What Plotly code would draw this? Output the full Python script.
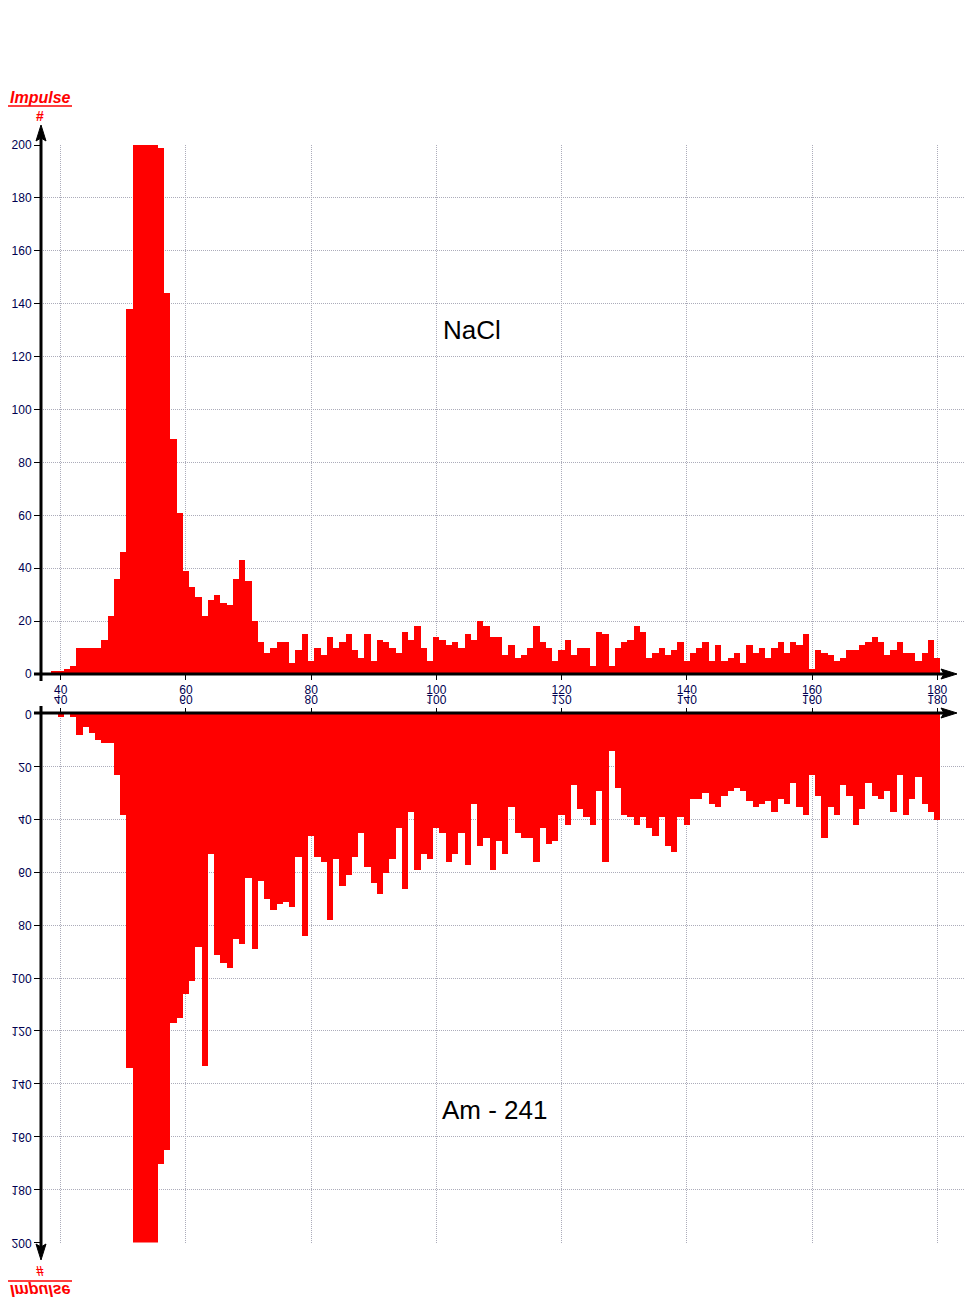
import plotly.graph_objects as go

# ---------------- data ----------------
channels = list(range(39, 181))

nacl_counts = [
    1, 1, 2, 3, 10, 10, 10, 10, 13, 22,
    36, 46, 138, 200, 200, 200, 200, 199, 144, 89,
    61, 39, 33, 29, 22, 28, 30, 27, 26, 36,
    43, 35, 20, 12, 8, 10, 12, 12, 4, 9,
    15, 5, 10, 7, 14, 10, 12, 15, 9, 6,
    15, 5, 13, 12, 10, 8, 16, 13, 18, 10,
    5, 14, 13, 11, 12, 10, 15, 13, 20, 18,
    14, 14, 7, 11, 6, 7, 10, 18, 12, 10,
    5, 9, 13, 7, 10, 10, 3, 16, 15, 3,
    10, 12, 13, 18, 16, 6, 8, 10, 7, 9,
    12, 5, 8, 10, 12, 5, 11, 5, 6, 8,
    4, 11, 8, 10, 6, 10, 12, 8, 12, 11,
    15, 2, 9, 8, 7, 5, 6, 9, 9, 11,
    12, 14, 12, 7, 9, 12, 8, 8, 5, 8,
    13, 6,
]

am241_counts = [
    0, 1, 0, 1, 8, 5, 7, 10, 11, 11,
    23, 38, 134, 200, 200, 200, 200, 170, 165, 117,
    115, 106, 101, 88, 133, 53, 91, 94, 96, 85,
    87, 62, 89, 63, 70, 74, 72, 71, 73, 54,
    84, 46, 54, 56, 78, 55, 65, 61, 54, 45,
    58, 64, 68, 60, 55, 43, 66, 37, 59, 53,
    55, 43, 45, 56, 53, 45, 57, 34, 50, 47,
    59, 48, 53, 35, 45, 47, 47, 56, 43, 49,
    48, 38, 42, 27, 36, 39, 42, 29, 56, 14,
    28, 38, 39, 42, 39, 43, 46, 39, 50, 52,
    39, 42, 32, 32, 30, 34, 35, 31, 29, 28,
    29, 33, 35, 34, 33, 37, 32, 34, 26, 35,
    38, 23, 31, 47, 35, 38, 27, 31, 42, 36,
    26, 31, 32, 29, 37, 23, 38, 32, 24, 34,
    37, 40,
]

x_ticks = [40, 60, 80, 100, 120, 140, 160, 180]
x_tick_labels = ["40", "60", "80", "100", "120", "140", "160", "180"]
y_ticks = [0, 20, 40, 60, 80, 100, 120, 140, 160, 180, 200]
y_tick_labels = ["0", "20", "40", "60", "80", "100", "120", "140", "160", "180", "200"]

top_label = "NaCl"
bottom_label = "Am - 241"
axis_title = "Impulse"
axis_unit = "#"

assert len(channels) == len(nacl_counts) == len(am241_counts)

# ---------------- geometry helpers ----------------
W, H = 965, 1300


def px(x):
    return x / W


def py(y):
    return 1 - y / H


X_RANGE = [40 - (60.7 - 41) / 6.261, 40 + (965 - 60.7) / 6.261]

RED = "#ff0000"
GRID = "#acacba"
TICKCOL = "#000050"
FONT = "Liberation Sans, Arial, sans-serif"

fig = go.Figure()
fig.add_trace(go.Bar(x=channels, y=nacl_counts, xaxis="x", yaxis="y", width=1,
                     marker=dict(color=RED, line=dict(width=0)), hoverinfo="x+y"))
fig.add_trace(go.Bar(x=channels, y=am241_counts, xaxis="x2", yaxis="y2", width=1,
                     marker=dict(color=RED, line=dict(width=0)), hoverinfo="x+y"))

common_x = dict(range=X_RANGE, tickvals=x_ticks, ticktext=x_tick_labels, ticks="outside",
                ticklen=5, tickwidth=1, tickcolor="black", showgrid=True, gridcolor=GRID,
                griddash="1px,1px", gridwidth=1, zeroline=False, showline=False,
                automargin=False,
                tickfont=dict(family=FONT, size=12, color=TICKCOL), fixedrange=True)
common_y = dict(tickvals=y_ticks, ticktext=y_tick_labels, ticks="outside", ticklen=6,
                tickwidth=1, tickcolor="black", showgrid=True, gridcolor=GRID,
                griddash="1px,1px", gridwidth=1, zeroline=False, showline=False,
                automargin=False,
                tickfont=dict(family=FONT, size=12, color=TICKCOL), fixedrange=True)

shapes = []
# axis lines
shapes.append(dict(type="line", xref="paper", yref="paper", x0=px(34), x1=px(945),
                   y0=py(674), y1=py(674), line=dict(color="black", width=3), layer="above"))
shapes.append(dict(type="line", xref="paper", yref="paper", x0=px(34), x1=px(945),
                   y0=py(713), y1=py(713), line=dict(color="black", width=3), layer="above"))
shapes.append(dict(type="line", xref="paper", yref="paper", x0=px(41), x1=px(41),
                   y0=py(681), y1=py(138), line=dict(color="black", width=3), layer="above"))
shapes.append(dict(type="line", xref="paper", yref="paper", x0=px(41), x1=px(41),
                   y0=py(706), y1=py(1247), line=dict(color="black", width=3), layer="above"))


def tri(pts):
    return "M " + " L ".join(f"{px(a):.5f},{py(b):.5f}" for a, b in pts) + " Z"


for pts in ([(957, 674), (941, 669), (944, 674), (941, 679)],
            [(957, 713), (941, 708), (944, 713), (941, 718)],
            [(41, 125), (36, 141), (41, 138), (46, 141)],
            [(41, 1260), (36, 1244), (41, 1247), (46, 1244)]):
    shapes.append(dict(type="path", xref="paper", yref="paper", path=tri(pts),
                       fillcolor="black", line=dict(color="black", width=1), layer="above"))

# underlines of the axis title
shapes.append(dict(type="line", xref="paper", yref="paper", x0=px(8), x1=px(72),
                   y0=py(106), y1=py(106), line=dict(color=RED, width=1.5)))
shapes.append(dict(type="line", xref="paper", yref="paper", x0=px(8), x1=px(72),
                   y0=py(1281), y1=py(1281), line=dict(color=RED, width=1.5)))

annotations = [
    dict(text=f"<b><i>{axis_title}</i></b>", x=px(40), y=py(97)),
    dict(text=f"<b>{axis_unit}</b>", x=px(40), y=py(116)),
    dict(text=top_label, x=px(472), y=py(330), font=dict(family=FONT, size=26, color="black")),
    dict(text=bottom_label, x=px(495), y=py(1110), font=dict(family=FONT, size=26, color="black")),
    dict(text=f"<b>{axis_unit}</b>", x=px(40), y=py(1271)),
    dict(text=f"<b><i>{axis_title}</i></b>", x=px(40), y=py(1290)),
]
for a in annotations:
    a.update(xref="paper", yref="paper", showarrow=False, xanchor="center", yanchor="middle")
    if "font" not in a:
        a["font"] = dict(family=FONT, size=16, color=RED)
annotations[1]["font"] = dict(family=FONT, size=14, color=RED)
annotations[4]["font"] = dict(family=FONT, size=14, color=RED)

fig.update_layout(
    width=W, height=H, autosize=False,
    margin=dict(l=0, r=0, t=0, b=0, pad=0, autoexpand=False),
    paper_bgcolor="white", plot_bgcolor="white",
    showlegend=False, bargap=0,
    xaxis=dict(domain=[px(41), 1], anchor="y", **common_x),
    yaxis=dict(domain=[py(674), py(145)], range=[0, 200], anchor="x", **common_y),
    xaxis2=dict(domain=[px(41), 1], anchor="y2", side="top", **common_x),
    yaxis2=dict(domain=[py(1242.5), py(713.5)], range=[200, 0], anchor="x2", **common_y),
    shapes=shapes,
    annotations=annotations,
)

# mirror (vertically flip) the texts that belong to the lower, mirrored panel
post = """
document.body.style.margin = '0';
var gd = document.getElementById('{plot_id}');
function flipV(el){
  var bb = el.getBBox();
  var cy = bb.y + bb.height / 2;
  el.setAttribute('transform', 'translate(0,' + (2 * cy) + ') scale(1,-1)');
}
gd.querySelectorAll('g.y2tick, g.x2tick').forEach(flipV);
gd.querySelectorAll('g.annotation').forEach(function(g){
  var i = +g.getAttribute('data-index');
  if (i === 4 || i === 5) { flipV(g); }
});
"""

fig.write_html("out.html", post_script=post, config={"displayModeBar": False, "responsive": False})
